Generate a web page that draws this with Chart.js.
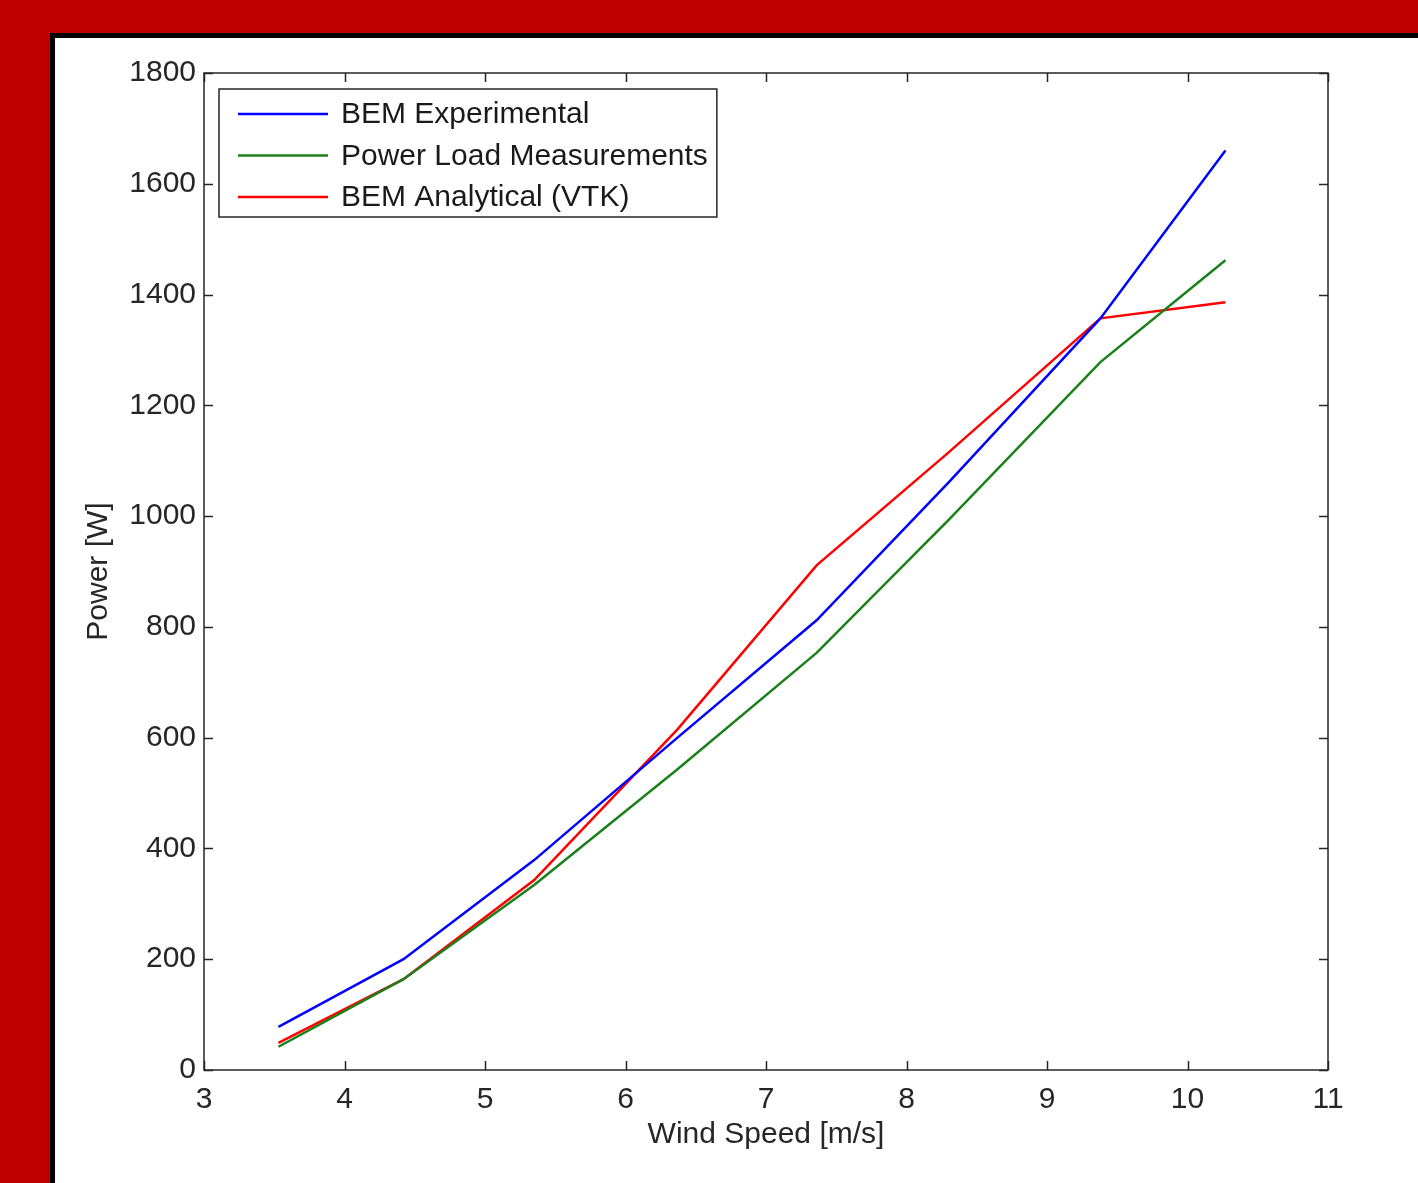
<!DOCTYPE html>
<html>
<head>
<meta charset="utf-8">
<script src="https://cdn.jsdelivr.net/npm/chart.js@4.4.1/dist/chart.umd.min.js"></script>
<style>
html, body { margin: 0; padding: 0; background: #c00000; width: 1418px; height: 1183px; overflow: hidden; }
#frame { position: absolute; left: 50px; top: 33px; right: 0; bottom: 0; background: #fff; border-left: 5px solid #000; border-top: 5px solid #000; }
#wrap { position: absolute; left: 0; top: 0; width: 1418px; height: 1183px; }
</style>
</head>
<body>
<div id="frame"></div>
<div id="wrap"><canvas id="chart" width="1418" height="1183"></canvas></div>
<script>
// wind speed [m/s]
const windSpeed = [3.53, 4.42, 5.35, 6.37, 7.36, 8.3, 9.38, 10.27];
// power [W]
const bemExperimental = [78, 200, 379, 600, 812, 1061, 1357, 1660];
const powerLoad = [42, 164, 334, 543, 753, 993, 1278, 1462];
const bemAnalytical = [49, 164, 343, 615, 911, 1115, 1357, 1386];

const seriesNames = ['BEM Experimental', 'Power Load Measurements', 'BEM Analytical (VTK)'];
const seriesColors = ['#0000ff', '#1a801a', '#ff0000'];

const FONT = 'Liberation Sans, Arial, Helvetica, sans-serif';
const FSIZE = 30;
const INK = '#262626';

function toPoints(ys) {
    return windSpeed.map((x, i) => ({ x: x, y: ys[i] }));
}

// box round the plot with inward ticks on all four sides (MATLAB style)
const boxPlugin = {
    id: 'box',
    afterDraw(chart) {
        const { ctx, chartArea: a, scales } = chart;
        const len = 9;
        ctx.save();
        ctx.strokeStyle = INK;
        ctx.lineWidth = 1.5;
        ctx.beginPath();
        scales.x.ticks.forEach(t => {
            const px = Math.round(scales.x.getPixelForValue(t.value)) + 0.5;
            ctx.moveTo(px, a.bottom); ctx.lineTo(px, a.bottom - len);
            ctx.moveTo(px, a.top); ctx.lineTo(px, a.top + len);
        });
        scales.y.ticks.forEach(t => {
            const py = Math.round(scales.y.getPixelForValue(t.value)) + 0.5;
            ctx.moveTo(a.left, py); ctx.lineTo(a.left + len, py);
            ctx.moveTo(a.right, py); ctx.lineTo(a.right - len, py);
        });
        ctx.stroke();
        ctx.strokeRect(a.left, a.top, a.right - a.left, a.bottom - a.top);
        ctx.restore();
    }
};

// legend box in the top-left corner of the plot
const legendPlugin = {
    id: 'boxLegend',
    afterDraw(chart) {
        const { ctx, chartArea: a } = chart;
        const x0 = a.left + 15, y0 = a.top + 16;
        const rowH = 41.5;
        ctx.save();
        ctx.font = FSIZE + 'px ' + FONT;
        let maxW = 0;
        chart.data.datasets.forEach(ds => { maxW = Math.max(maxW, ctx.measureText(ds.label).width); });
        const w = 122 + maxW + 9;
        const h = 128;
        ctx.fillStyle = '#fff';
        ctx.fillRect(x0, y0, w, h);
        ctx.strokeStyle = INK;
        ctx.lineWidth = 1.5;
        ctx.strokeRect(x0, y0, w, h);
        chart.data.datasets.forEach((ds, i) => {
            const cy = y0 + 25 + i * rowH;
            ctx.strokeStyle = ds.borderColor;
            ctx.lineWidth = 2.5;
            ctx.beginPath();
            ctx.moveTo(x0 + 19, cy);
            ctx.lineTo(x0 + 109, cy);
            ctx.stroke();
            ctx.fillStyle = '#1a1a1a';
            ctx.textBaseline = 'middle';
            ctx.fillText(ds.label, x0 + 122, cy + 1);
        });
        ctx.restore();
    }
};

new Chart(document.getElementById('chart'), {
    type: 'line',
    data: {
        datasets: [
            { label: seriesNames[0], data: toPoints(bemExperimental), borderColor: seriesColors[0] },
            { label: seriesNames[1], data: toPoints(powerLoad), borderColor: seriesColors[1] },
            { label: seriesNames[2], data: toPoints(bemAnalytical), borderColor: seriesColors[2] }
        ]
    },
    options: {
        responsive: false,
        animation: false,
        layout: { padding: { top: 73, right: 90, left: 0, bottom: 0 } },
        elements: {
            line: { borderWidth: 2.5, tension: 0, fill: false },
            point: { radius: 0, hoverRadius: 0 }
        },
        plugins: { legend: { display: false }, tooltip: { enabled: false } },
        scales: {
            x: {
                type: 'linear', min: 3, max: 11,
                grid: { display: false }, border: { display: false },
                ticks: { stepSize: 1, color: INK, font: { family: FONT, size: FSIZE }, padding: 4, maxRotation: 0,
                         callback: v => String(v) },
                title: { display: true, text: 'Wind Speed [m/s]', color: INK, font: { family: FONT, size: FSIZE }, padding: { top: 0, bottom: 30 } },
                afterFit(scale) { scale.height = 113; }
            },
            y: {
                min: 0, max: 1800,
                grid: { display: false }, border: { display: false },
                ticks: { stepSize: 200, color: INK, font: { family: FONT, size: FSIZE }, padding: 0,
                         callback: v => String(v) },
                title: { display: true, text: 'Power [W]', color: INK, font: { family: FONT, size: FSIZE }, padding: { top: 81, bottom: 0 } },
                afterFit(scale) { scale.width = 204; }
            }
        }
    },
    plugins: [boxPlugin, legendPlugin]
});
</script>
</body>
</html>
